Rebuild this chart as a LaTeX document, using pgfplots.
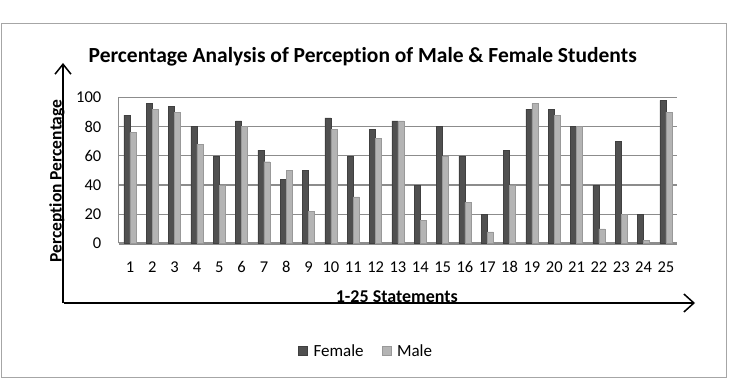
\documentclass[border=0pt]{standalone}
\usepackage{fontspec}
\setmainfont{Carlito}[Ligatures=NoCommon]
\usepackage{pgfplots}
\pgfplotsset{compat=1.18}
\usetikzlibrary{arrows.meta}
\definecolor{fem}{HTML}{505050}
\definecolor{mal}{HTML}{B4B4B4}
\definecolor{gridc}{HTML}{8C8C8C}
\begin{document}
\begin{tikzpicture}[x=1pt,y=1pt]
\useasboundingbox (0,0) rectangle (729,380);
\draw[color=black!35, line width=1pt] (1,2) rectangle (726,356);
\coordinate (A) at (118.8,136.5);
\begin{axis}[
  at={(A)}, anchor=south west,
  scale only axis, width=558.3pt, height=146pt,
  xmin=0.5, xmax=25.5, ymin=0, ymax=100,
  ybar, bar width=6pt,
  xtick={1,...,25}, ytick={0,20,...,100},
  ymajorgrids, grid style={gridc, line width=1.2pt},
  axis x line*=bottom, axis y line*=left,
  axis line style={gridc, line width=1pt},
  x axis line style={line width=2.5pt},
  major tick length=0pt,
  /pgf/number format/assume math mode=true,
  tick label style={font=\fontsize{16.5}{19}\selectfont},
  xticklabel style={anchor=base, yshift=-29.5pt},
  yticklabel style={xshift=-14pt},
  title={Percentage Analysis of Perception of Male \& Female Students},
  title style={at={(axis description cs:0.437,1.24)}, anchor=center, font=\bfseries\fontsize{21.5}{25}\selectfont},
  xlabel={1-25 Statements},
  xlabel style={at={(axis description cs:0.498,-0.366)}, anchor=center, font=\bfseries\fontsize{18}{21}\selectfont},
  ylabel={Perception Percentage},
  ylabel style={at={(axis description cs:-0.1107,0.428)}, anchor=center, font=\bfseries\fontsize{17.5}{21}\selectfont},
  legend style={at={(axis description cs:0.443,-0.736)}, anchor=center, draw=none, fill=none, legend columns=2,
    font=\fontsize{17}{20}\selectfont,
    /tikz/every odd column/.append style={column sep=4pt},
    /tikz/every even column/.append style={column sep=16pt}},
  legend image code/.code={\fill[#1] (0pt,-4.5pt) rectangle (9pt,4.5pt);},
]
\addplot[fill=fem, draw=fem!80!black, bar shift=-3pt] coordinates {
(1,88) (2,96) (3,94) (4,80) (5,60) (6,84) (7,64) (8,44) (9,50) (10,86)
(11,60) (12,78) (13,84) (14,40) (15,80) (16,60) (17,20) (18,64) (19,92) (20,92)
(21,80) (22,40) (23,70) (24,20) (25,98)};
\addlegendentry{Female}
\addplot[fill=mal, draw=mal!85!black, bar shift=3pt] coordinates {
(1,76) (2,92) (3,90) (4,68) (5,40) (6,80) (7,56) (8,50) (9,22) (10,78)
(11,32) (12,72) (13,84) (14,16) (15,60) (16,28) (17,8) (18,40) (19,96) (20,88)
(21,80) (22,10) (23,20) (24,2) (25,90)};
\addlegendentry{Male}
\end{axis}
\draw[line width=1.5pt, -{Straight Barb[length=10pt,width=18pt]}] (64,77) -- (695,77);
\draw[line width=1.5pt, -{Straight Barb[length=10pt,width=16pt]}] (63,76.5) -- (63,317);
\end{tikzpicture}
\end{document}
